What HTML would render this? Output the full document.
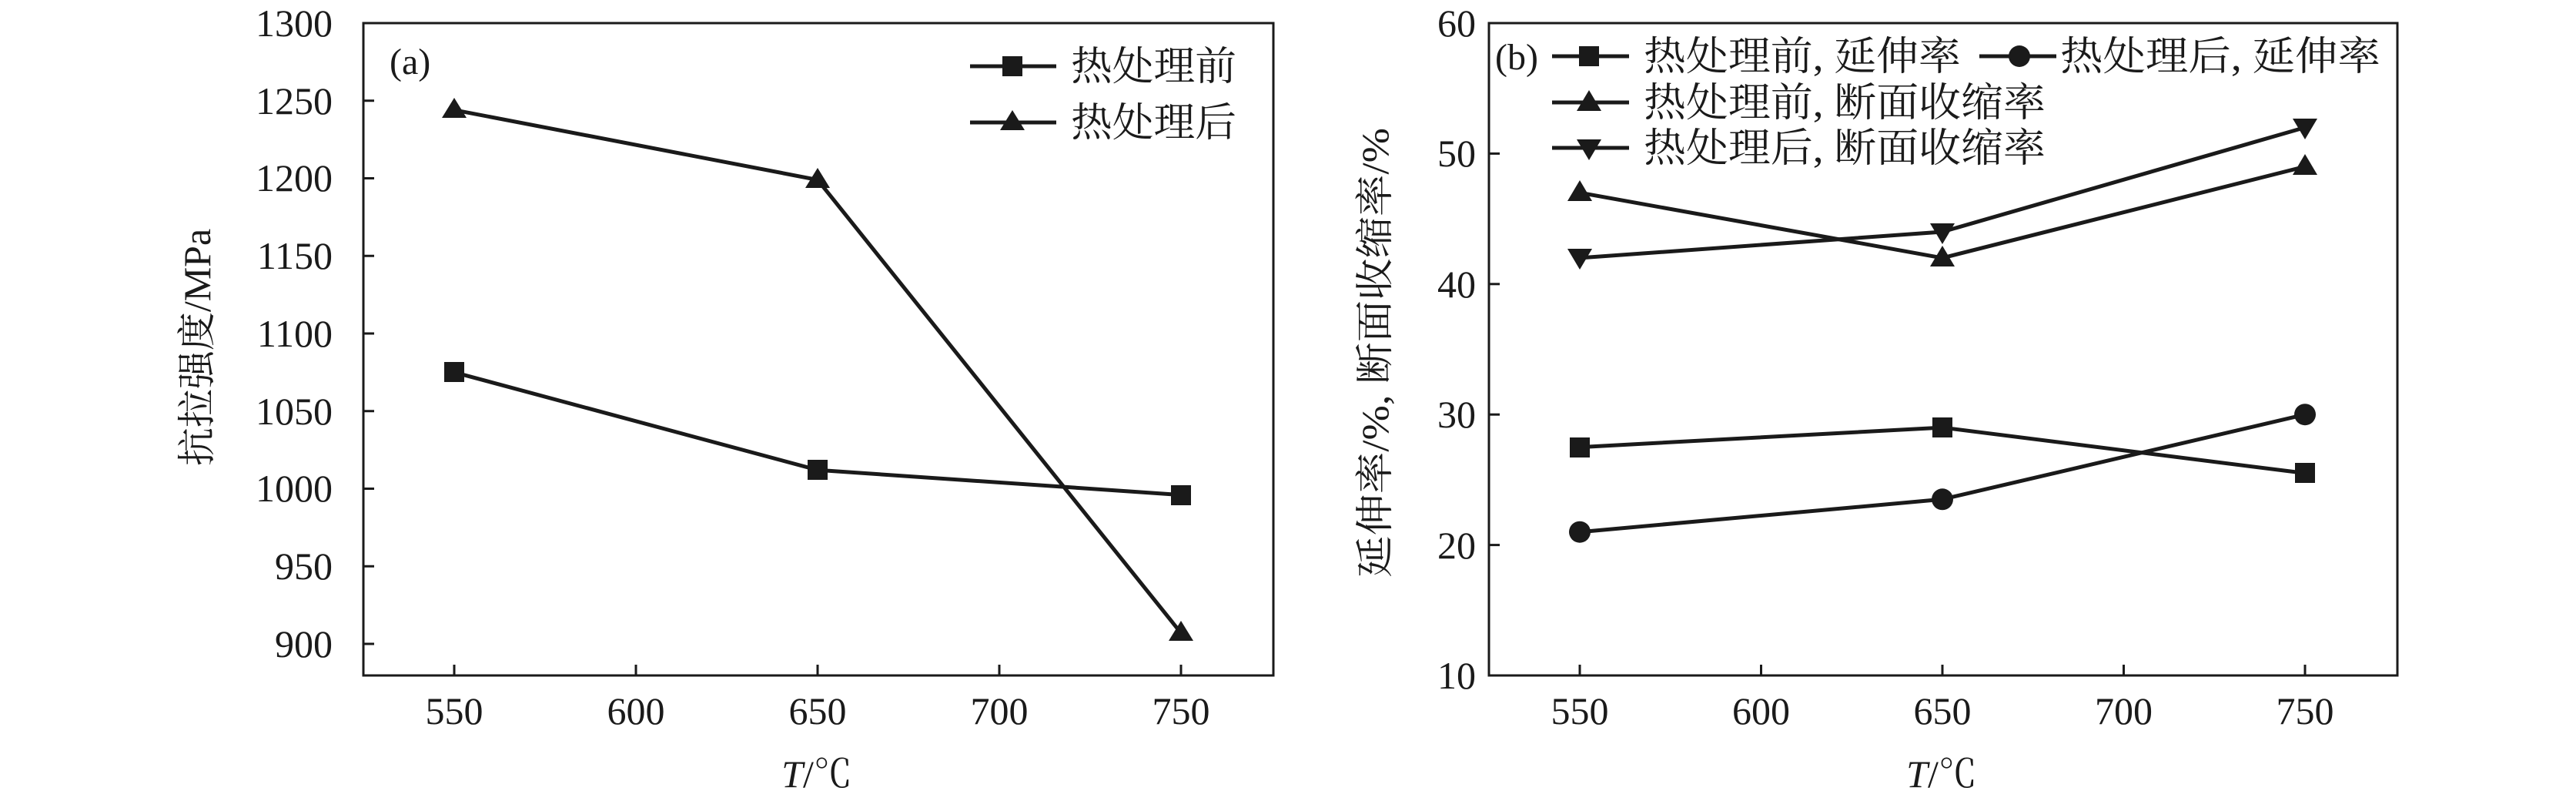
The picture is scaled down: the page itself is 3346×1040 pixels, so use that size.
<!DOCTYPE html>
<html><head><meta charset="utf-8"><style>html,body{margin:0;padding:0;background:#fff}svg{display:block}</style></head>
<body>
<svg width="3346" height="1040" viewBox="0 0 3346 1040" xmlns="http://www.w3.org/2000/svg" font-family="'Liberation Serif','Noto Serif CJK SC',serif" fill="#1a1a1a">
<rect width="3346" height="1040" fill="#fff"/>
<!-- Panel a -->
<rect x="472" y="30" width="1182" height="847" fill="none" stroke="#1a1a1a" stroke-width="3"/>
<g stroke="#1a1a1a" stroke-width="3">
<line x1="472" y1="30" x2="486" y2="30"/><line x1="472" y1="130.75" x2="486" y2="130.75"/><line x1="472" y1="231.5" x2="486" y2="231.5"/><line x1="472" y1="332.25" x2="486" y2="332.25"/><line x1="472" y1="433" x2="486" y2="433"/><line x1="472" y1="533.75" x2="486" y2="533.75"/><line x1="472" y1="634.5" x2="486" y2="634.5"/><line x1="472" y1="735.25" x2="486" y2="735.25"/><line x1="472" y1="836" x2="486" y2="836"/>
<line x1="590" y1="877" x2="590" y2="863"/><line x1="826" y1="877" x2="826" y2="863"/><line x1="1062" y1="877" x2="1062" y2="863"/><line x1="1298" y1="877" x2="1298" y2="863"/><line x1="1534" y1="877" x2="1534" y2="863"/>
</g>
<g font-size="50" text-anchor="end">
<text x="432" y="47">1300</text><text x="432" y="148">1250</text><text x="432" y="248">1200</text><text x="432" y="349">1150</text><text x="432" y="450">1100</text><text x="432" y="551">1050</text><text x="432" y="651">1000</text><text x="432" y="752">950</text><text x="432" y="853">900</text>
</g>
<g font-size="50" text-anchor="middle">
<text x="590" y="940">550</text><text x="826" y="940">600</text><text x="1062" y="940">650</text><text x="1298" y="940">700</text><text x="1534" y="940">750</text>
<text x="1061" y="1022"><tspan font-style="italic">T</tspan>/℃</text>
</g>
<text transform="translate(273,451) rotate(-90)" font-size="50" text-anchor="middle">抗拉强度/MPa</text>
<text x="506" y="96" font-size="48">(a)</text>
<g stroke="#1a1a1a" stroke-width="5" fill="none">
<polyline points="590,483.4 1062,610.3 1534,642.6"/>
<polyline points="590,142.8 1062,233.5 1534,821.9"/>
<line x1="1260" y1="86" x2="1372" y2="86"/><line x1="1260" y1="159" x2="1372" y2="159"/>
</g>
<g>
<rect x="577" y="470" width="26" height="26"/><rect x="1049" y="597" width="26" height="26"/><rect x="1521" y="630" width="26" height="26"/>
<polygon points="590,127 574,153 606,153"/><polygon points="1062,218 1046,244 1078,244"/><polygon points="1534,806 1518,832 1550,832"/>
<rect x="1302" y="73" width="26" height="26"/><polygon points="1315,143 1299,169 1331,169"/>
</g>
<g font-size="52"><text x="1391" y="104" textLength="215" lengthAdjust="spacingAndGlyphs">热处理前</text><text x="1391" y="177" textLength="215" lengthAdjust="spacingAndGlyphs">热处理后</text></g>

<!-- Panel b -->
<rect x="1934" y="30" width="1180" height="847" fill="none" stroke="#1a1a1a" stroke-width="3"/>
<g stroke="#1a1a1a" stroke-width="3">
<line x1="1934" y1="199.4" x2="1948" y2="199.4"/><line x1="1934" y1="368.8" x2="1948" y2="368.8"/><line x1="1934" y1="538.2" x2="1948" y2="538.2"/><line x1="1934" y1="707.6" x2="1948" y2="707.6"/>
<line x1="2052" y1="877" x2="2052" y2="863"/><line x1="2287.5" y1="877" x2="2287.5" y2="863"/><line x1="2523" y1="877" x2="2523" y2="863"/><line x1="2758.5" y1="877" x2="2758.5" y2="863"/><line x1="2994" y1="877" x2="2994" y2="863"/>
</g>
<g font-size="50" text-anchor="end">
<text x="1917" y="47">60</text><text x="1917" y="216">50</text><text x="1917" y="386">40</text><text x="1917" y="555">30</text><text x="1917" y="725">20</text><text x="1917" y="894">10</text>
</g>
<g font-size="50" text-anchor="middle">
<text x="2052" y="940">550</text><text x="2287.5" y="940">600</text><text x="2523" y="940">650</text><text x="2758.5" y="940">700</text><text x="2994" y="940">750</text>
<text x="2522" y="1022"><tspan font-style="italic">T</tspan>/℃</text>
</g>
<text transform="translate(1803,458) rotate(-90)" font-size="50" text-anchor="middle" textLength="584" lengthAdjust="spacingAndGlyphs">延伸率/%, 断面收缩率/%</text>
<text x="1942" y="90" font-size="48">(b)</text>
<g stroke="#1a1a1a" stroke-width="5" fill="none">
<polyline points="2052,580.6 2523,555.1 2994,614.4"/>
<polyline points="2052,690.7 2523,648.3 2994,538.2"/>
<polyline points="2052,250.2 2523,334.9 2994,216.3"/>
<polyline points="2052,334.9 2523,301 2994,165.5"/>
<line x1="2016" y1="73" x2="2116" y2="73"/><line x1="2571" y1="73" x2="2671" y2="73"/>
<line x1="2016" y1="133" x2="2116" y2="133"/><line x1="2016" y1="192" x2="2116" y2="192"/>
</g>
<g>
<rect x="2039" y="568" width="26" height="26"/><rect x="2510" y="542" width="26" height="26"/><rect x="2981" y="601" width="26" height="26"/>
<circle cx="2052" cy="690.7" r="14"/><circle cx="2523" cy="648.3" r="14"/><circle cx="2994" cy="538.2" r="14"/>
<polygon points="2052,234 2036,261 2068,261"/><polygon points="2523,319 2507,346 2539,346"/><polygon points="2994,200 2978,227 3010,227"/>
<polygon points="2052,350 2036,323 2068,323"/><polygon points="2523,317 2507,290 2539,290"/><polygon points="2994,181 2978,154 3010,154"/>
<rect x="2051" y="60" width="26" height="26"/><circle cx="2623" cy="73" r="14"/>
<polygon points="2064,117 2048,144 2080,144"/><polygon points="2064,208 2048,181 2080,181"/>
</g>
<g font-size="52">
<text x="2135" y="91" textLength="412" lengthAdjust="spacingAndGlyphs">热处理前, 延伸率</text>
<text x="2676" y="91" textLength="416" lengthAdjust="spacingAndGlyphs">热处理后, 延伸率</text>
<text x="2135" y="151" textLength="522" lengthAdjust="spacingAndGlyphs">热处理前, 断面收缩率</text>
<text x="2135" y="210" textLength="522" lengthAdjust="spacingAndGlyphs">热处理后, 断面收缩率</text>
</g>
</svg>
</body></html>
